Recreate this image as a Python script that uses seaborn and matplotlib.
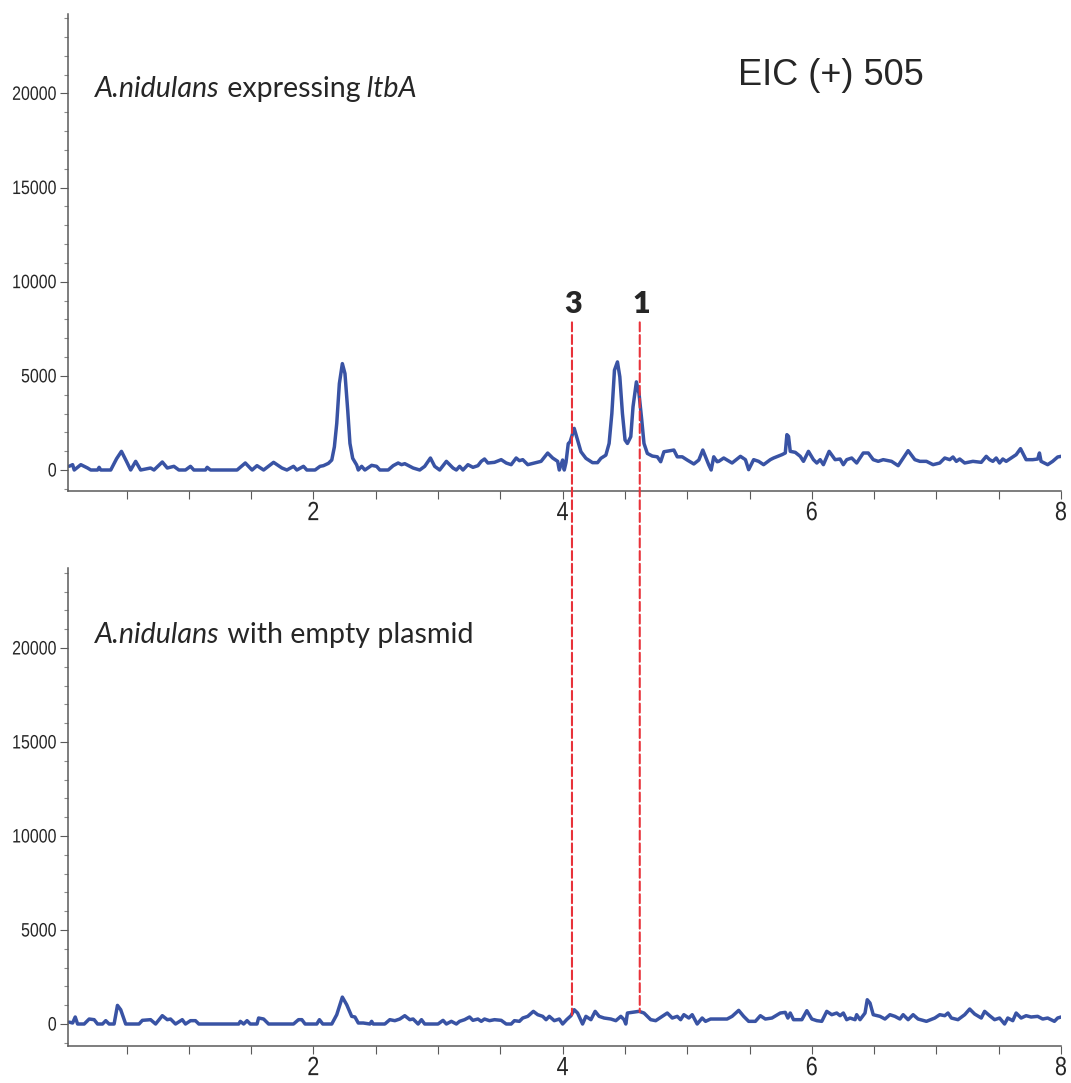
import matplotlib
matplotlib.use("Agg")
import matplotlib.pyplot as plt
import seaborn as sns
import pandas as pd
from matplotlib.patches import ConnectionPatch
from matplotlib.ticker import MultipleLocator
from matplotlib.patheffects import AbstractPathEffect
from matplotlib.transforms import Affine2D

# ---------------- data ----------------
top_time = [0.04, 0.067, 0.08, 0.133, 0.187, 0.213, 0.267, 0.28, 0.293, 0.373, 0.42, 0.459, 0.50,
            0.533, 0.573, 0.613, 0.693, 0.72, 0.787, 0.827, 0.88, 0.92, 0.973, 1.013, 1.04,
            1.133, 1.147, 1.173, 1.387, 1.453, 1.507, 1.547, 1.6, 1.68, 1.747, 1.787, 1.84,
            1.867, 1.92, 1.947, 2.013, 2.053, 2.08, 2.12, 2.147, 2.168, 2.187, 2.208, 2.232,
            2.253, 2.275, 2.293, 2.315, 2.347, 2.36, 2.387, 2.413, 2.467, 2.507, 2.533, 2.6,
            2.64, 2.68, 2.707, 2.733, 2.8, 2.853, 2.893, 2.939, 2.973, 3.013, 3.067, 3.12,
            3.147, 3.173, 3.2, 3.24, 3.28, 3.32, 3.347, 3.373, 3.4, 3.453, 3.507, 3.547,
            3.587, 3.627, 3.653, 3.68, 3.72, 3.773, 3.827, 3.88, 3.92, 3.96, 3.973, 4.0,
            4.013, 4.027, 4.045, 4.06, 4.093, 4.12, 4.147, 4.187, 4.24, 4.28, 4.307, 4.347,
            4.373, 4.395, 4.416, 4.44, 4.459, 4.48, 4.501, 4.52, 4.547, 4.565, 4.592, 4.613,
            4.635, 4.653, 4.68, 4.72, 4.76, 4.787, 4.813, 4.893, 4.92, 4.96, 5.0, 5.053,
            5.093, 5.125, 5.147, 5.173, 5.192, 5.213, 5.24, 5.253, 5.293, 5.36, 5.427, 5.467,
            5.493, 5.533, 5.573, 5.613, 5.667, 5.693, 5.76, 5.787, 5.8, 5.813, 5.827, 5.867,
            5.907, 5.933, 5.973, 6.013, 6.04, 6.067, 6.093, 6.139, 6.187, 6.227, 6.253, 6.28,
            6.32, 6.36, 6.413, 6.453, 6.493, 6.533, 6.573, 6.64, 6.693, 6.773, 6.827, 6.867,
            6.92, 6.973, 7.027, 7.067, 7.107, 7.133, 7.16, 7.187, 7.227, 7.293, 7.36, 7.4,
            7.427, 7.453, 7.48, 7.507, 7.533, 7.56, 7.6, 7.64, 7.675, 7.72, 7.773, 7.813,
            7.827, 7.84, 7.893, 7.933, 7.973, 8.0]
top_int = [200, 283, 0, 283, 106, 0, 0, 142, 0, 0, 600, 990, 450,
           0, 460, 0, 106, 0, 425, 106, 195, 0, 0, 195, 0,
           0, 142, 0, 0, 372, 0, 230, 0, 407, 106, 0, 195,
           0, 195, 0, 0, 195, 230, 353, 530, 1230, 2470, 4590, 5650,
           5120, 3180, 1410, 620, 265, 0, 195, 0, 248, 195, 0, 0,
           230, 372, 283, 336, 106, 0, 195, 637, 195, 0, 460, 106,
           0, 195, 0, 283, 142, 230, 460, 584, 372, 407, 549, 372,
           283, 637, 495, 549, 283, 372, 460, 900, 637, 460, 0, 530,
           0, 400, 1400, 1500, 2210, 1590, 970, 620, 390, 390, 620, 790,
           1410, 3000, 5300, 5740, 4950, 3000, 1590, 1410, 1770, 3360, 4680, 4060,
           2650, 1410, 880, 740, 700, 440, 970, 1060, 700, 700, 530, 320,
           530, 1060, 700, 270, 0, 700, 440, 460, 637, 372, 726, 549,
           18, 549, 460, 283, 549, 637, 814, 903, 1876, 1788, 991, 938,
           726, 460, 991, 549, 372, 549, 283, 991, 549, 584, 283, 549,
           637, 372, 903, 903, 549, 460, 549, 460, 230, 1027, 549, 460,
           460, 283, 372, 637, 549, 690, 460, 584, 372, 460, 407, 726,
           549, 460, 637, 372, 584, 460, 637, 814, 1133, 549, 549, 584,
           903, 460, 283, 460, 690, 726]

bot_time = [0.04, 0.067, 0.088, 0.107, 0.16, 0.2, 0.24, 0.267, 0.307, 0.333, 0.36, 0.4, 0.427,
            0.453, 0.493, 0.6, 0.627, 0.693, 0.733, 0.787, 0.827, 0.853, 0.893, 0.947, 0.973,
            1.013, 1.053, 1.08, 1.4, 1.413, 1.44, 1.467, 1.493, 1.547, 1.56, 1.6, 1.64, 1.84,
            1.88, 1.907, 1.933, 2.027, 2.048, 2.075, 2.147, 2.187, 2.232, 2.267, 2.307, 2.333,
            2.36, 2.4, 2.453, 2.467, 2.48, 2.573, 2.613, 2.653, 2.693, 2.733, 2.773, 2.8,
            2.84, 2.867, 2.893, 3.0, 3.04, 3.067, 3.107, 3.147, 3.173, 3.213, 3.253, 3.28,
            3.32, 3.347, 3.373, 3.413, 3.453, 3.507, 3.547, 3.587, 3.613, 3.653, 3.68, 3.72,
            3.765, 3.8, 3.84, 3.867, 3.893, 3.933, 3.973, 4.0, 4.032, 4.067, 4.093, 4.12,
            4.16, 4.187, 4.227, 4.261, 4.293, 4.333, 4.387, 4.427, 4.467, 4.493, 4.507, 4.52,
            4.56, 4.613, 4.653, 4.707, 4.747, 4.8, 4.84, 4.88, 4.92, 4.947, 4.973, 5.013,
            5.04, 5.08, 5.12, 5.147, 5.187, 5.227, 5.32, 5.36, 5.413, 5.453, 5.493, 5.547,
            5.587, 5.627, 5.68, 5.747, 5.787, 5.808, 5.827, 5.853, 5.92, 5.96, 6.0, 6.04,
            6.08, 6.12, 6.16, 6.2, 6.227, 6.253, 6.28, 6.307, 6.347, 6.36, 6.387, 6.427,
            6.445, 6.467, 6.493, 6.547, 6.587, 6.627, 6.667, 6.707, 6.733, 6.773, 6.813, 6.853,
            6.92, 6.987, 7.027, 7.067, 7.093, 7.12, 7.173, 7.227, 7.267, 7.307, 7.36, 7.387,
            7.427, 7.467, 7.507, 7.547, 7.573, 7.613, 7.64, 7.68, 7.72, 7.76, 7.813, 7.853,
            7.893, 7.947, 7.973, 8.0]
bot_int = [100, 53, 372, 0, 0, 265, 230, 0, 0, 177, 0, 0, 990,
           760, 0, 0, 195, 230, 0, 442, 230, 265, 0, 230, 0,
           177, 177, 0, 0, 140, 0, 177, 0, 0, 318, 265, 0, 0,
           230, 230, 0, 0, 230, 0, 0, 495, 1430, 1025, 407, 372,
           53, 53, 0, 142, 0, 0, 230, 177, 265, 442, 230, 265,
           0, 230, 0, 0, 195, 0, 142, 0, 142, 230, 372, 195,
           265, 142, 265, 177, 230, 195, 0, 0, 177, 142, 318, 407,
           673, 495, 407, 230, 407, 177, 265, 0, 230, 442, 760, 584,
           0, 407, 230, 673, 407, 318, 265, 177, 407, 230, 0, 584,
           620, 673, 584, 230, 177, 407, 584, 318, 407, 230, 495, 318,
           495, 0, 318, 142, 265, 265, 265, 407, 725, 407, 142, 142,
           442, 265, 318, 584, 620, 318, 584, 230, 230, 708, 265, 177,
           142, 673, 495, 584, 442, 584, 230, 318, 230, 495, 230, 584,
           1290, 1115, 495, 407, 265, 495, 407, 265, 495, 230, 495, 265,
           142, 318, 495, 442, 584, 318, 230, 495, 796, 531, 318, 673,
           442, 230, 318, 0, 318, 177, 584, 318, 442, 372, 407, 265,
           318, 142, 318, 372]

x_major = [2, 4, 6, 8]
y_major = [0, 5000, 10000, 15000, 20000]
marker_times = [4.075, 4.619]
marker_labels = ["3", "1"]
header = "EIC (+) 505"
top_title = [("A.nidulans", "italic"), (" expressing", "normal"), (" ltbA", "italic")]
bot_title = [("A.nidulans", "italic"), (" with empty plasmid", "normal")]


class Condense(AbstractPathEffect):
    """Horizontally condense text glyphs around an anchor (0 left, 0.5 centre, 1 right)."""

    def __init__(self, sx, anchor):
        super().__init__()
        self.sx = sx
        self.anchor = anchor

    def draw_path(self, renderer, gc, tpath, affine, rgbFace=None):
        xs = tpath.vertices[:, 0]
        if len(xs):
            x0, x1 = xs.min(), xs.max()
            xa = x0 + (x1 - x0) * self.anchor
        else:
            xa = 0
        t = Affine2D().translate(-xa, 0).scale(self.sx, 1).translate(xa, 0)
        renderer.draw_path(gc, tpath, t + affine, rgbFace)


# ---------------- style ----------------
sns.set_style("white")
plt.rcParams["font.family"] = ["Liberation Sans", "DejaVu Sans"]

W, H = 1071, 1083
fig = plt.figure(figsize=(W / 100, H / 100), dpi=100)

line_color = "#3953a4"
spine_color = "#5a5a5a"

ax_top = fig.add_axes([68 / W, 1 - 491 / H, 993 / W, 477 / H])
ax_bot = fig.add_axes([68 / W, 1 - 1046 / H, 993 / W, 478 / H])

df_top = pd.DataFrame({"time": top_time, "intensity": top_int})
df_bot = pd.DataFrame({"time": bot_time, "intensity": bot_int})

sns.lineplot(data=df_top, x="time", y="intensity", ax=ax_top, color=line_color,
             linewidth=2.5, estimator=None, sort=False)
sns.lineplot(data=df_bot, x="time", y="intensity", ax=ax_bot, color=line_color,
             linewidth=2.5, estimator=None, sort=False)

limits = {ax_top: (-1115, 24215), ax_bot: (-1170, 24255)}
for ax in (ax_top, ax_bot):
    ax.set_xlim(0.03, 8.0)
    ax.set_ylim(*limits[ax])
    ax.set_xlabel("")
    ax.set_ylabel("")
    ax.set_xticks(x_major)
    ax.set_xticklabels([str(v) for v in x_major])
    ax.xaxis.set_minor_locator(MultipleLocator(0.5))
    ax.set_yticks(y_major)
    ax.set_yticklabels([str(v) for v in y_major])
    ax.yaxis.set_minor_locator(MultipleLocator(1000))
    for s in ("top", "right"):
        ax.spines[s].set_visible(False)
    for s in ("left", "bottom"):
        ax.spines[s].set_color(spine_color)
        ax.spines[s].set_linewidth(1.1)
    ax.tick_params(axis="x", which="both", direction="out", length=5.8, width=0.8,
                   color=spine_color, bottom=True, pad=1.5, labelsize=19)
    ax.tick_params(axis="y", which="major", direction="out", length=5.8, width=0.8,
                   color=spine_color, left=True, pad=2.2, labelsize=14)
    ax.tick_params(axis="y", which="minor", direction="out", length=3, width=0.8,
                   color="#8a8a8a", left=True)
    for lbl in ax.get_xticklabels():
        lbl.set_path_effects([Condense(0.82, 0.5)])
    for lbl in ax.get_yticklabels():
        lbl.set_path_effects([Condense(0.82, 1.0)])
    ax.patch.set_alpha(0)


def rich_text(x, y, parts, size):
    first_txt, first_style = parts[0]
    prev = ax_top.text(x, y, first_txt, transform=fig.transFigure, fontsize=size,
                       family=["Lato", "DejaVu Sans"], style=first_style,
                       va="baseline", ha="left")
    for txt, st in parts[1:]:
        prev = ax_top.annotate(txt, xy=(1, 0), xycoords=prev, fontsize=size,
                               family=["Lato", "DejaVu Sans"], style=st,
                               va="bottom", ha="left")


rich_text(95 / W, 1 - 97 / H, top_title, 20.6)
rich_text(95 / W, 1 - 643 / H, bot_title, 20.6)

fig.text(738 / W, 1 - 85 / H, header, fontsize=26, family=["Liberation Sans", "DejaVu Sans"],
         va="baseline", ha="left")

# dashed marker lines spanning both panels
tops = [7840, 7840]
bottoms = [480, 640]
for t, lab, ytop, ybot in zip(marker_times, marker_labels, tops, bottoms):
    con = ConnectionPatch(xyA=(t, ytop), coordsA=ax_top.transData,
                          xyB=(t, ybot), coordsB=ax_bot.transData,
                          color="#e8323a", linewidth=1.5, linestyle=(0, (4.3, 1.8)))
    fig.add_artist(con)
    ax_top.text(t + 0.012, 8320, lab, fontsize=22, fontweight="heavy",
                family=["Lato", "DejaVu Sans"], ha="center", va="baseline")

fig.savefig("out.png", dpi=100)
